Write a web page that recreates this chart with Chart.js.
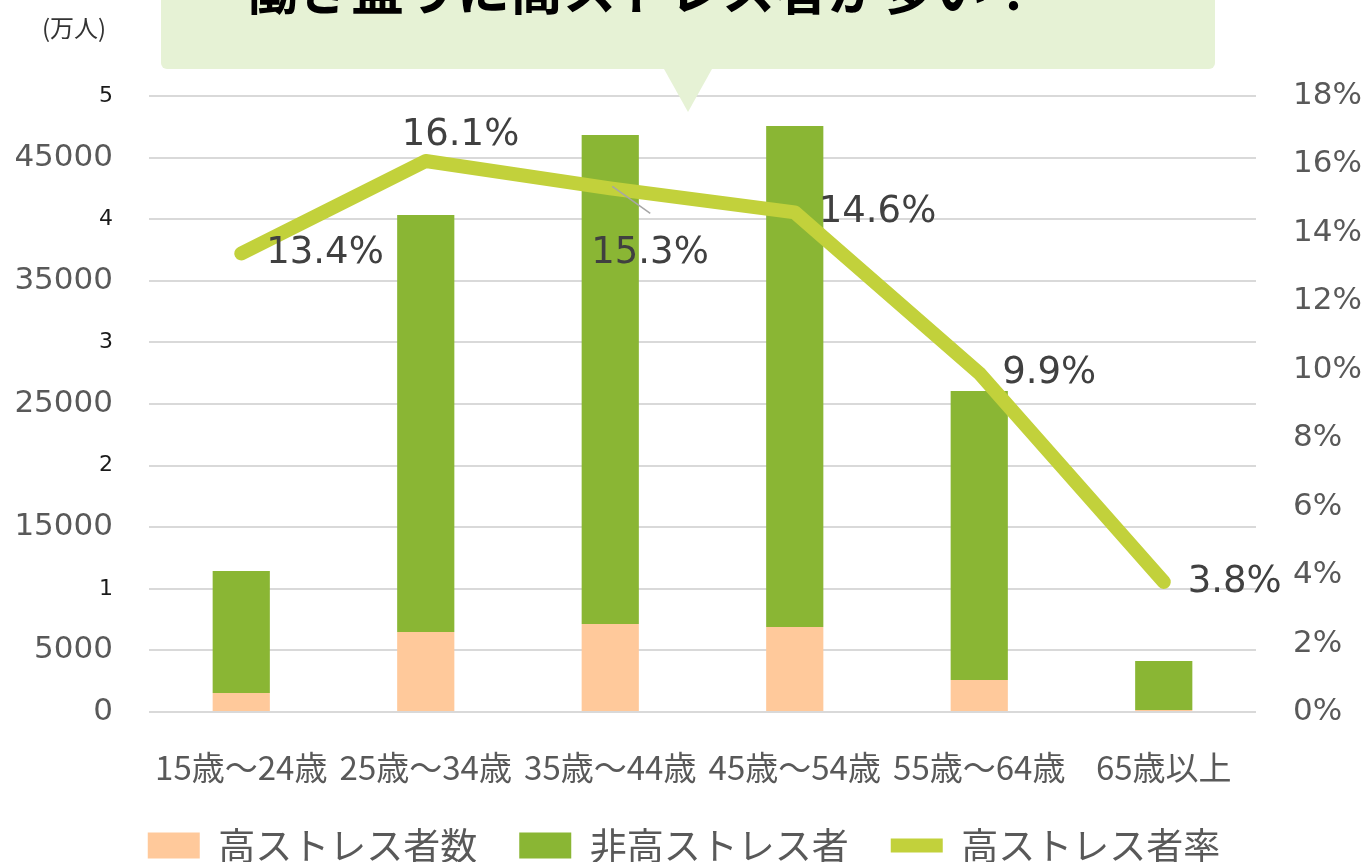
<!DOCTYPE html>
<html lang="ja">
<head>
<meta charset="utf-8">
<script src="https://cdn.jsdelivr.net/npm/chart.js@4/dist/chart.umd.min.js"></script>
<style>
  html, body { margin: 0; padding: 0; background: #fff; overflow: hidden; }
  #wrap { position: relative; width: 1368px; height: 880px; }
  #banner {
    position: absolute; left: 161px; top: -10px; width: 1054px; height: 79px;
    background: #e6f2d5; border-radius: 6px; z-index: 2; overflow: hidden;
  }
  #banner span {
    position: absolute; left: 84px; top: -29px; white-space: nowrap;
    font: bold 53px "Noto Sans CJK JP", sans-serif; line-height: 53px; color: #000;
  }
  #arrow {
    position: absolute; left: 664px; top: 69px; width: 0; height: 0; z-index: 2;
    border-left: 24px solid transparent; border-right: 24px solid transparent;
    border-top: 43px solid #e6f2d5;
  }
  #unit {
    position: absolute; left: 42px; top: 9px; font: 24px "Noto Sans CJK JP", sans-serif;
    color: #333; z-index: 3;
  }
  canvas { position: absolute; left: 0; top: 0; }
</style>
</head>
<body>
<div id="wrap">
  <div id="banner"><span>働き盛りに高ストレス者が多い！</span></div>
  <div id="arrow"></div>
  <div id="unit">(万人)</div>
  <canvas id="chart"></canvas>
</div>
<script>
// 年代別 高ストレス者数 / 非高ストレス者 / 高ストレス者率
const ageGroups = ['15歳～24歳', '25歳～34歳', '35歳～44歳', '45歳～54歳', '55歳～64歳', '65歳以上'];
const highStress = [1540, 6490, 7150, 6900, 2590, 160];
const notHighStress = [9900, 33850, 39680, 40660, 23460, 3980];
const highStressRate = [13.4, 16.1, 15.3, 14.6, 9.9, 3.8];

const countTicks = { min: 0, max: 50000, step: 5000 };
const rateTicks = { min: 0, max: 18, step: 2 };

// ラベル位置 (点からのずれ)
const labelOffsets = [[25, 0], [-24, -26], [-19, 65], [24, 0], [23, 0], [24, 0]];

const isManTick = c => c.tick && c.tick.value > 0 && c.tick.value % 10000 === 0;

const rateLabels = {
    id: 'rateLabels',
    afterDatasetsDraw(chart) {
        const meta = chart.getDatasetMeta(2);
        const ctx = chart.ctx;
        ctx.save();
        ctx.font = '37px "DejaVu Sans", sans-serif';
        ctx.fillStyle = '#404040';
        ctx.textAlign = 'left';
        ctx.textBaseline = 'middle';
        meta.data.forEach((pt, i) => {
            const [dx, dy] = labelOffsets[i];
            if (i === 2) {
                ctx.strokeStyle = '#a6a6a6';
                ctx.lineWidth = 1.5;
                ctx.beginPath();
                ctx.moveTo(pt.x + 2, pt.y - 2);
                ctx.lineTo(pt.x + 40, pt.y + 25);
                ctx.stroke();
            }
            ctx.fillText(highStressRate[i].toFixed(1) + '%', pt.x + dx, pt.y + dy);
        });
        ctx.restore();
    }
};

const canvas = document.getElementById('chart');
canvas.width = 1368;
canvas.height = 880;

new Chart(canvas, {
    type: 'bar',
    data: {
        labels: ageGroups,
        datasets: [
            {
                label: '高ストレス者数',
                data: highStress,
                backgroundColor: '#ffc99b',
                borderWidth: 0,
                pointStyle: 'rect',
                yAxisID: 'y',
                order: 1
            },
            {
                label: '非高ストレス者',
                data: notHighStress,
                backgroundColor: '#8ab634',
                borderWidth: 0,
                pointStyle: 'rect',
                yAxisID: 'y',
                order: 2
            },
            {
                type: 'line',
                label: '高ストレス者率',
                data: highStressRate,
                borderColor: '#c2d13b',
                backgroundColor: '#c2d13b',
                borderWidth: 14,
                borderCapStyle: 'round',
                borderJoinStyle: 'round',
                pointRadius: 0,
                pointStyle: 'line',
                tension: 0,
                yAxisID: 'y1',
                order: 0
            }
        ]
    },
    options: {
        responsive: false,
        animation: false,
        layout: { padding: { top: 96, bottom: 6, left: 0, right: 0 } },
        datasets: {
            bar: { categoryPercentage: 1, barPercentage: 0.31 }
        },
        plugins: {
            tooltip: { enabled: false },
            legend: {
                position: 'bottom',
                labels: {
                    usePointStyle: true,
                    pointStyleWidth: 52,
                    boxHeight: 26,
                    padding: 42,
                    color: '#595959',
                    font: { family: '"Noto Sans CJK JP", sans-serif', size: 37 },
                    sort: (a, b) => a.datasetIndex - b.datasetIndex
                }
            }
        },
        scales: {
            x: {
                stacked: true,
                grid: { display: false, drawTicks: false },
                border: { display: false },
                ticks: {
                    color: '#595959',
                    padding: 36,
                    maxRotation: 0,
                    font: { family: '"Noto Sans CJK JP", sans-serif', size: 33 }
                },
                afterFit: s => { s.height = 73; }
            },
            y: {
                stacked: true,
                position: 'left',
                min: countTicks.min,
                max: countTicks.max,
                grid: { color: '#d9d9d9', lineWidth: 2, drawTicks: false },
                border: { display: false },
                ticks: {
                    stepSize: countTicks.step,
                    padding: 36,
                    callback: v => (v > 0 && v % 10000 === 0) ? String(v / 10000) : String(v),
                    color: c => isManTick(c) ? '#1a1a1a' : '#595959',
                    font: c => isManTick(c)
                        ? { family: '"DejaVu Sans", sans-serif', size: 22 }
                        : { family: '"DejaVu Sans", sans-serif', size: 31 }
                },
                afterFit: s => { s.width = 149; }
            },
            y1: {
                position: 'right',
                min: rateTicks.min,
                max: rateTicks.max,
                grid: { display: false, drawTicks: false },
                border: { display: false },
                ticks: {
                    stepSize: rateTicks.step,
                    padding: 37,
                    color: '#595959',
                    callback: v => v + '%',
                    font: { family: '"DejaVu Sans", sans-serif', size: 31 }
                },
                afterFit: s => { s.width = 112; }
            }
        }
    },
    plugins: [rateLabels]
});
</script>
</body>
</html>
